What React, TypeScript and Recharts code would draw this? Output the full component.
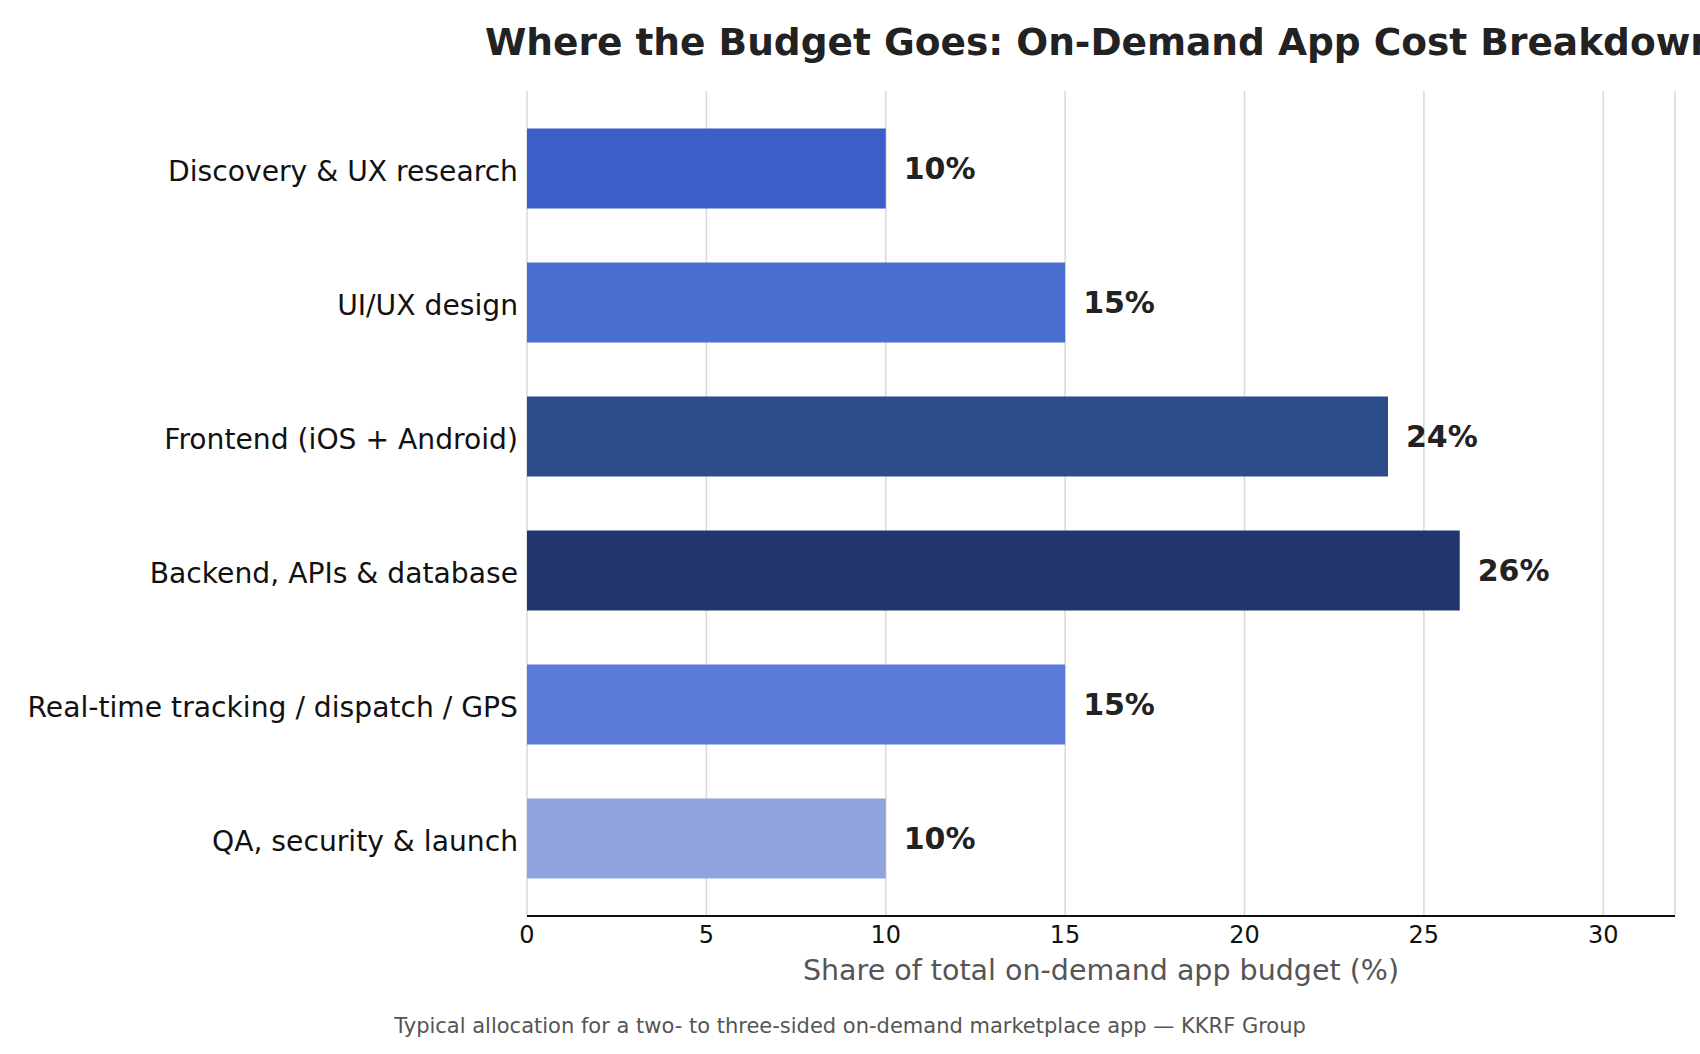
import React from "react";
import {
  BarChart,
  Bar,
  XAxis,
  YAxis,
  CartesianGrid,
  Cell,
  LabelList,
  Label,
} from "recharts";

// Budget phases and their share of total spend (%)
const categories = [
  "Discovery & UX research",
  "UI/UX design",
  "Frontend (iOS + Android)",
  "Backend, APIs & database",
  "Real-time tracking / dispatch / GPS",
  "QA, security & launch",
];
const shares = [10, 15, 24, 26, 15, 10];
const barColors = ["#3d5dc8", "#4b6fd0", "#2d4c8a", "#20366c", "#5c7bd8", "#90a5de"];
const xTicks = [0, 5, 10, 15, 20, 25, 30];

const data = categories.map((name, i) => ({ name, value: shares[i] }));

const FONT = "'DejaVu Sans', 'Liberation Sans', sans-serif";
const W = 1700;
const H = 1054;

export default function App() {
  return (
    <div style={{ position: "absolute", left: 0, top: 0, width: W, height: H, background: "#fff", fontFamily: FONT }}>
      <BarChart
        width={W}
        height={H}
        data={data}
        layout="vertical"
        margin={{ top: 91, right: 25, bottom: 108, left: 0 }}
      >
        <CartesianGrid horizontal={false} stroke="#d9d9d9" strokeWidth={1.5} />
        <XAxis
          type="number"
          domain={[0, 32]}
          ticks={xTicks}
          height={30}
          tickLine={false}
          tickSize={0}
          tickMargin={10}
          axisLine={{ stroke: "#111", strokeWidth: 2 }}
          tick={{ fontSize: 24, fill: "#111", fontFamily: FONT }}
        >
          <Label
            value="Share of total on-demand app budget (%)"
            position="bottom"
            offset={14}
            style={{ fontSize: 28.5, fill: "#555", fontFamily: FONT }}
          />
        </XAxis>
        <YAxis
          type="category"
          dataKey="name"
          width={527}
          axisLine={false}
          tickLine={false}
          tickSize={0}
          tickMargin={9}
          padding={{ top: 10.5, bottom: 10.5 }}
          tick={{ fontSize: 28.2, fill: "#111", fontFamily: FONT, dy: 2 }}
        />
        <Bar dataKey="value" barSize={80} isAnimationActive={false}>
          {data.map((d, i) => (
            <Cell key={d.name} fill={barColors[i]} />
          ))}
          <LabelList
            dataKey="value"
            position="right"
            offset={18}
            formatter={(v: number) => `${v}%`}
            style={{ fontSize: 30, fontWeight: "bold", fill: "#222", fontFamily: FONT }}
          />
        </Bar>
      </BarChart>
      <svg
        width={W}
        height={H}
        style={{ position: "absolute", left: 0, top: 0, pointerEvents: "none" }}
      >
        <text
          x={1101}
          y={55}
          textAnchor="middle"
          fontSize={37.5}
          fontWeight="bold"
          fill="#222"
          fontFamily={FONT}
        >
          Where the Budget Goes: On-Demand App Cost Breakdown
        </text>
        <text x={850} y={1033} textAnchor="middle" fontSize={21} fill="#555" fontFamily={FONT}>
          Typical allocation for a two- to three-sided on-demand marketplace app — KKRF Group
        </text>
      </svg>
    </div>
  );
}
